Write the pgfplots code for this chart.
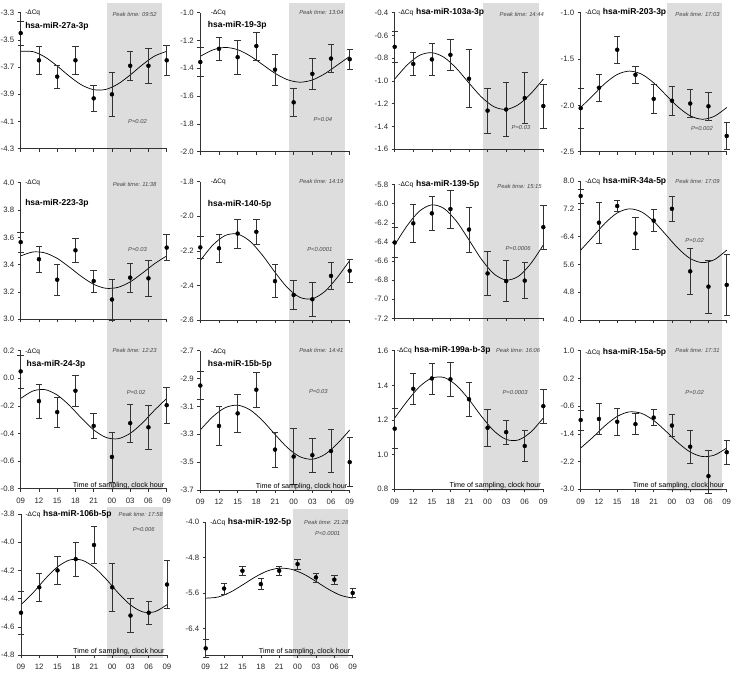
\documentclass[border=0pt]{standalone}
\usepackage{fontspec}
\setmainfont{Liberation Sans}
\usepackage{pgfplots}
\pgfplotsset{compat=1.18}
\definecolor{bandgray}{RGB}{221,221,221}
\definecolor{axgray}{RGB}{50,50,50}
\definecolor{txtgray}{RGB}{70,70,70}

\newcommand{\dcq}{{\fontsize{6.5}{7}\selectfont -ΔCq}}
\newcommand{\ttl}[1]{{\fontsize{8.5}{9}\selectfont\bfseries #1}}
\newcommand{\pk}[1]{{\fontsize{5.8}{6}\selectfont\itshape\color{txtgray}Peak time: #1}}
\newcommand{\pv}[1]{{\fontsize{5.8}{6}\selectfont\itshape\color{txtgray}#1}}
\newcommand{\band}[2]{\fill[bandgray] (rel axis cs:0.5917,#1) rectangle (rel axis cs:0.9708,#2);}
\newcommand{\tsamp}{\node[anchor=base east, inner sep=0pt, font=\fontsize{7.2}{8}\selectfont] at (rel axis cs:0.985,0.012) {Time of sampling,\ clock hour};}

\pgfplotsset{
  panel/.style={
    scale only axis, clip=false, axis on top,
    xmin=0, xmax=24, xtick={0,3,...,24},
    axis x line*=bottom, axis y line*=left,
    axis line style={axgray, line width=0.6pt},
    tick style={axgray, line width=0.6pt},
    tick align=outside, major tick length=3pt,
    xticklabels={},
    ticklabel style={font=\fontsize{7.8}{8}\selectfont, text=black!85},
    yticklabel style={/pgf/number format/fixed, /pgf/number format/fixed zerofill,
      /pgf/number format/precision=1, /pgf/number format/assume math mode=true},
  },
  labelled/.style={xticklabels={09,12,15,18,21,00,03,06,09}, xticklabel style={yshift=-3pt}},
  pts/.style={only marks, mark=*, mark size=2pt, black,
    error bars/.cd, y dir=both, y explicit,
    error bar style={black!80, line width=0.6pt},
    error mark options={rotate=90, mark size=3.2pt, line width=0.6pt, black!80}},
  fit/.style={smooth, no marks, black, line width=0.7pt},
}

\begin{document}
\begin{tikzpicture}
\useasboundingbox (0,0) rectangle (733pt,-677pt);

% ---------- row 1 ----------
\begin{axis}[panel, at={(20.7pt,-148.7pt)}, anchor=south west, width=146pt, height=136pt,
  ymin=-4.3, ymax=-3.3, ytick={-4.3,-4.1,-3.9,-3.7,-3.5,-3.3}]
\band{1.07}{-0.18}
\addplot[fit] coordinates {(0,-3.584)(2,-3.586)(4,-3.626)(6,-3.692)(8,-3.767)(10,-3.831)(12,-3.866)(14,-3.864)(16,-3.824)(18,-3.758)(20,-3.683)(22,-3.619)(24,-3.584)};
\addplot[pts] coordinates {(0,-3.45)+-(0,0.09) (3,-3.65)+-(0,0.10) (6,-3.77)+-(0,0.085) (9,-3.65)+-(0,0.10) (12,-3.93)+-(0,0.095) (15,-3.90)+-(0,0.16) (18,-3.69)+-(0,0.105) (21,-3.69)+-(0,0.13) (24,-3.65)+-(0,0.11)};
\node[anchor=west, inner sep=0pt] at (rel axis cs:0.03,1.0) {\dcq};
\node[anchor=west, inner sep=0pt] at (rel axis cs:0.03,0.897) {\ttl{hsa-miR-27a-3p}};
\node at (rel axis cs:0.78,0.99) {\pk{09:52}};
\node at (rel axis cs:0.80,0.20) {\pv{P=0.02}};
\end{axis}

\begin{axis}[panel, at={(200.3pt,-151.7pt)}, anchor=south west, width=149.4pt, height=139pt,
  ymin=-2.0, ymax=-1.0, ytick={-2.0,-1.8,-1.6,-1.4,-1.2,-1.0}]
\band{1.07}{-0.16}
\addplot[fit] coordinates {(0,-1.314)(2,-1.268)(4,-1.25)(6,-1.266)(8,-1.311)(10,-1.373)(12,-1.436)(14,-1.482)(16,-1.5)(18,-1.484)(20,-1.439)(22,-1.377)(24,-1.314)};
\addplot[pts] coordinates {(0,-1.355)+-(0,0.105) (3,-1.26)+-(0,0.085) (6,-1.32)+-(0,0.12) (9,-1.24)+-(0,0.10) (12,-1.41)+-(0,0.11) (15,-1.645)+-(0,0.10) (18,-1.44)+-(0,0.11) (21,-1.33)+-(0,0.10) (24,-1.335)+-(0,0.075)};
\node[anchor=west, inner sep=0pt] at (rel axis cs:0.07,1.0) {\dcq};
\node[anchor=west, inner sep=0pt] at (rel axis cs:0.05,0.91) {\ttl{hsa-miR-19-3p}};
\node at (rel axis cs:0.81,1.0) {\pk{13:04}};
\node at (rel axis cs:0.82,0.23) {\pv{P=0.04}};
\end{axis}

\begin{axis}[panel, at={(394.7pt,-149.3pt)}, anchor=south west, width=148.6pt, height=136.6pt,
  ymin=-1.6, ymax=-0.4, ytick={-1.6,-1.4,-1.2,-1.0,-0.8,-0.6,-0.4}]
\band{1.07}{-0.18}
\addplot[fit] coordinates {(0,-0.983)(2,-0.860)(4,-0.775)(6,-0.751)(8,-0.793)(10,-0.891)(12,-1.018)(14,-1.140)(16,-1.225)(18,-1.250)(20,-1.207)(22,-1.110)(24,-0.983)};
\addplot[pts] coordinates {(0,-0.70)+-(0,0.14) (3,-0.85)+-(0,0.10) (6,-0.81)+-(0,0.14) (9,-0.77)+-(0,0.14) (12,-0.98)+-(0,0.255) (15,-1.26)+-(0,0.20) (18,-1.25)+-(0,0.235) (21,-1.15)+-(0,0.225) (24,-1.22)+-(0,0.195)};
\node[anchor=west, inner sep=0pt] at (rel axis cs:0.024,1.0) {\dcq\ \ttl{hsa-miR-103a-3p}};
\node at (rel axis cs:0.855,0.99) {\pk{14:44}};
\node at (rel axis cs:0.85,0.16) {\pv{P=0.03}};
\end{axis}

\begin{axis}[panel, at={(580.7pt,-151.7pt)}, anchor=south west, width=146pt, height=139pt,
  ymin=-2.5, ymax=-1.0, ytick={-2.5,-2.0,-1.5,-1.0}]
\band{1.07}{-0.16}
\addplot[fit] coordinates {(0,-2.023)(2,-1.893)(4,-1.763)(6,-1.667)(8,-1.63)(10,-1.663)(12,-1.757)(14,-1.887)(16,-2.017)(18,-2.113)(20,-2.15)(22,-2.117)(24,-2.023)};
\addplot[pts] coordinates {(0,-2.03)+-(0,0.215) (3,-1.81)+-(0,0.15) (6,-1.40)+-(0,0.15) (9,-1.67)+-(0,0.095) (12,-1.93)+-(0,0.16) (15,-1.95)+-(0,0.16) (18,-1.98)+-(0,0.15) (21,-2.01)+-(0,0.15) (24,-2.33)+-(0,0.145)};
\node[anchor=west, inner sep=0pt] at (rel axis cs:0.03,1.0) {\dcq\ \ttl{hsa-miR-203-3p}};
\node at (rel axis cs:0.80,0.99) {\pk{17:03}};
\node at (rel axis cs:0.83,0.17) {\pv{P=0.002}};
\end{axis}

% ---------- row 2 ----------
\begin{axis}[panel, at={(20.7pt,-319.3pt)}, anchor=south west, width=146pt, height=136.6pt,
  ymin=3.0, ymax=4.0, ytick={3.0,3.2,3.4,3.6,3.8,4.0}]
\band{1.07}{-0.17}
\addplot[fit] coordinates {(0,3.464)(2,3.493)(4,3.486)(6,3.446)(8,3.382)(10,3.313)(12,3.256)(14,3.227)(16,3.234)(18,3.274)(20,3.338)(22,3.407)(24,3.464)};
\addplot[pts] coordinates {(0,3.565)+-(0,0.075) (3,3.44)+-(0,0.095) (6,3.29)+-(0,0.115) (9,3.505)+-(0,0.085) (12,3.28)+-(0,0.08) (15,3.145)+-(0,0.15) (18,3.305)+-(0,0.105) (21,3.30)+-(0,0.135) (24,3.525)+-(0,0.095)};
\node[anchor=west, inner sep=0pt] at (rel axis cs:0.03,1.0) {\dcq};
\node[anchor=west, inner sep=0pt] at (rel axis cs:0.03,0.85) {\ttl{hsa-miR-223-3p}};
\node at (rel axis cs:0.78,0.99) {\pk{11:38}};
\node at (rel axis cs:0.80,0.51) {\pv{P=0.03}};
\end{axis}

\begin{axis}[panel, at={(200.3pt,-320pt)}, anchor=south west, width=149.4pt, height=138.3pt,
  ymin=-2.6, ymax=-1.8, ytick={-2.6,-2.4,-2.2,-2.0,-1.8}]
\band{1.07}{-0.16}
\addplot[fit] coordinates {(0,-2.256)(2,-2.167)(4,-2.111)(6,-2.103)(8,-2.145)(10,-2.226)(12,-2.324)(14,-2.413)(16,-2.469)(18,-2.477)(20,-2.435)(22,-2.354)(24,-2.256)};
\addplot[pts] coordinates {(0,-2.18)+-(0,0.065) (3,-2.185)+-(0,0.08) (6,-2.10)+-(0,0.085) (9,-2.09)+-(0,0.07) (12,-2.375)+-(0,0.095) (15,-2.455)+-(0,0.085) (18,-2.48)+-(0,0.10) (21,-2.345)+-(0,0.08) (24,-2.315)+-(0,0.065)};
\node[anchor=west, inner sep=0pt] at (rel axis cs:0.07,1.0) {\dcq};
\node[anchor=west, inner sep=0pt] at (rel axis cs:0.05,0.84) {\ttl{hsa-miR-140-5p}};
\node at (rel axis cs:0.81,1.0) {\pk{14:19}};
\node at (rel axis cs:0.80,0.51) {\pv{P<0.0001}};
\end{axis}

\begin{axis}[panel, at={(394.7pt,-318.3pt)}, anchor=south west, width=148.6pt, height=133.6pt,
  ymin=-7.2, ymax=-5.8, ytick={-7.2,-7.0,-6.8,-6.6,-6.4,-6.2,-6.0,-5.8}]
\band{1.1}{-0.18}
\addplot[fit] coordinates {(0,-6.431)(2,-6.230)(4,-6.077)(6,-6.011)(8,-6.051)(10,-6.185)(12,-6.379)(14,-6.580)(16,-6.733)(18,-6.799)(20,-6.759)(22,-6.625)(24,-6.431)};
\addplot[pts] coordinates {(0,-6.405)+-(0,0.16) (3,-6.205)+-(0,0.195) (6,-6.10)+-(0,0.175) (9,-6.055)+-(0,0.20) (12,-6.27)+-(0,0.235) (15,-6.73)+-(0,0.23) (18,-6.81)+-(0,0.215) (21,-6.805)+-(0,0.19) (24,-6.245)+-(0,0.23)};
\node[anchor=west, inner sep=0pt] at (rel axis cs:0.024,1.0) {\dcq\ \ttl{hsa-miR-139-5p}};
\node at (rel axis cs:0.84,0.99) {\pk{15:15}};
\node at (rel axis cs:0.83,0.52) {\pv{P=0.0006}};
\end{axis}

\begin{axis}[panel, at={(580.7pt,-320pt)}, anchor=south west, width=146pt, height=139pt,
  ymin=4.0, ymax=8.0, ytick={4.0,4.8,5.6,6.4,7.2,8.0}, yticklabels={4.0,4.8,5.6,-6.4,7.2,8.0}]
\band{1.08}{-0.16}
\addplot[fit] coordinates {(0,6.011)(2,6.395)(4,6.786)(6,7.081)(8,7.199)(10,7.111)(12,6.839)(14,6.455)(16,6.064)(18,5.769)(20,5.651)(22,5.739)(24,6.011)};
\addplot[pts] coordinates {(0,7.57)+-(0,0.20) (3,6.80)+-(0,0.58) (6,7.28)+-(0,0.16) (9,6.49)+-(0,0.46) (12,6.86)+-(0,0.32) (15,7.20)+-(0,0.35) (18,5.40)+-(0,0.66) (21,4.96)+-(0,0.77) (24,5.01)+-(0,0.88)};
\node[anchor=west, inner sep=0pt] at (rel axis cs:0.03,1.0) {\dcq\ \ttl{hsa-miR-34a-5p}};
\node at (rel axis cs:0.80,1.0) {\pk{17:09}};
\node at (rel axis cs:0.78,0.57) {\pv{P=0.02}};
\end{axis}

% ---------- row 3 ----------
\begin{axis}[panel, labelled, at={(20.7pt,-488.7pt)}, anchor=south west, width=146pt, height=138pt,
  ymin=-0.8, ymax=0.2, ytick={-0.8,-0.6,-0.4,-0.2,0.0,0.2}]
\band{1.08}{-0.01}
\addplot[fit] coordinates {(0,-0.146)(2,-0.092)(4,-0.082)(6,-0.121)(8,-0.196)(10,-0.289)(12,-0.374)(14,-0.428)(16,-0.438)(18,-0.399)(20,-0.324)(22,-0.231)(24,-0.146)};
\addplot[pts] coordinates {(0,0.05)+-(0,0.12) (3,-0.165)+-(0,0.125) (6,-0.245)+-(0,0.11) (9,-0.09)+-(0,0.115) (12,-0.345)+-(0,0.09) (15,-0.57)+-(0,0.18) (18,-0.325)+-(0,0.14) (21,-0.355)+-(0,0.16) (24,-0.195)+-(0,0.13)};
\node[anchor=west, inner sep=0pt] at (rel axis cs:0.03,0.99) {\dcq};
\node[anchor=west, inner sep=0pt] at (rel axis cs:0.04,0.90) {\ttl{hsa-miR-24-3p}};
\node at (rel axis cs:0.78,1.0) {\pk{12:23}};
\node at (rel axis cs:0.79,0.70) {\pv{P=0.02}};
\tsamp
\end{axis}

\begin{axis}[panel, labelled, at={(200.3pt,-490pt)}, anchor=south west, width=149.4pt, height=139.3pt,
  ymin=-3.7, ymax=-2.7, ytick={-3.7,-3.5,-3.3,-3.1,-2.9,-2.7}]
\band{1.08}{-0.01}
\addplot[fit] coordinates {(0,-3.269)(2,-3.174)(4,-3.109)(6,-3.091)(8,-3.125)(10,-3.202)(12,-3.301)(14,-3.396)(16,-3.461)(18,-3.479)(20,-3.445)(22,-3.368)(24,-3.269)};
\addplot[pts] coordinates {(0,-2.95)+-(0,0.10) (3,-3.24)+-(0,0.14) (6,-3.15)+-(0,0.135) (9,-2.98)+-(0,0.125) (12,-3.41)+-(0,0.125) (15,-3.46)+-(0,0.20) (18,-3.45)+-(0,0.12) (21,-3.42)+-(0,0.155) (24,-3.50)+-(0,0.175)};
\node[anchor=west, inner sep=0pt] at (rel axis cs:0.07,0.99) {\dcq};
\node[anchor=west, inner sep=0pt] at (rel axis cs:0.05,0.90) {\ttl{hsa-miR-15b-5p}};
\node at (rel axis cs:0.81,1.0) {\pk{14:41}};
\node at (rel axis cs:0.79,0.71) {\pv{P=0.03}};
\tsamp
\end{axis}

\begin{axis}[panel, labelled, at={(394.7pt,-489.3pt)}, anchor=south west, width=148.6pt, height=138.6pt,
  ymin=0.8, ymax=1.6, ytick={0.8,1.0,1.2,1.4,1.6}]
\band{1.08}{-0.01}
\addplot[fit] coordinates {(0,1.212)(2,1.308)(4,1.392)(6,1.442)(8,1.445)(10,1.399)(12,1.318)(14,1.222)(16,1.138)(18,1.088)(20,1.085)(22,1.131)(24,1.212)};
\addplot[pts] coordinates {(0,1.15)+-(0,0.115) (3,1.38)+-(0,0.09) (6,1.44)+-(0,0.09) (9,1.435)+-(0,0.10) (12,1.32)+-(0,0.10) (15,1.155)+-(0,0.105) (18,1.13)+-(0,0.07) (21,1.05)+-(0,0.09) (24,1.28)+-(0,0.10)};
\node[anchor=west, inner sep=0pt] at (rel axis cs:0.013,1.0) {\dcq\ \ttl{hsa-miR-199a-b-3p}};
\node at (rel axis cs:0.83,1.0) {\pk{16:06}};
\node at (rel axis cs:0.81,0.70) {\pv{P=0.0003}};
\tsamp
\end{axis}

\begin{axis}[panel, labelled, at={(580.7pt,-489.3pt)}, anchor=south west, width=146pt, height=138.6pt,
  ymin=-3.0, ymax=1.0, ytick={-3.0,-2.2,-1.4,-0.6,0.2,1.0}]
\band{1.08}{-0.01}
\addplot[fit] coordinates {(0,-1.808)(2,-1.498)(4,-1.164)(6,-0.896)(8,-0.766)(10,-0.808)(12,-1.012)(14,-1.322)(16,-1.656)(18,-1.924)(20,-2.054)(22,-2.012)(24,-1.808)};
\addplot[pts] coordinates {(0,-1.0)+-(0,0.29) (3,-0.97)+-(0,0.45) (6,-1.05)+-(0,0.39) (9,-1.12)+-(0,0.30) (12,-0.93)+-(0,0.23) (15,-1.16)+-(0,0.32) (18,-1.77)+-(0,0.48) (21,-2.62)+=(0,0.75)-=(0,0.5) (24,-1.93)+-(0,0.35)};
\node[anchor=west, inner sep=0pt] at (rel axis cs:0.03,0.985) {\dcq\ \ttl{hsa-miR-15a-5p}};
\node at (rel axis cs:0.80,1.0) {\pk{17:31}};
\node at (rel axis cs:0.78,0.70) {\pv{P=0.02}};
\tsamp
\end{axis}

% ---------- row 4 ----------
\begin{axis}[panel, labelled, at={(21pt,-655pt)}, anchor=south west, width=146pt, height=141pt,
  ymin=-4.8, ymax=-3.8, ytick={-4.8,-4.6,-4.4,-4.2,-4.0,-3.8}]
\band{1.05}{-0.02}
\addplot[fit] coordinates {(0,-4.443)(2,-4.358)(4,-4.259)(6,-4.175)(8,-4.126)(10,-4.127)(12,-4.177)(14,-4.262)(16,-4.361)(18,-4.445)(20,-4.494)(22,-4.493)(24,-4.443)};
\addplot[pts] coordinates {(0,-4.50)+-(0,0.15) (3,-4.32)+-(0,0.10) (6,-4.20)+-(0,0.10) (9,-4.12)+-(0,0.12) (12,-4.02)+-(0,0.13) (15,-4.32)+-(0,0.17) (18,-4.52)+-(0,0.12) (21,-4.50)+-(0,0.08) (24,-4.30)+-(0,0.17)};
\node[anchor=west, inner sep=0pt] at (rel axis cs:0.03,1.0) {\dcq\ \ttl{hsa-miR-106b-5p}};
\node at (rel axis cs:0.82,1.0) {\pk{17:58}};
\node at (rel axis cs:0.84,0.89) {\pv{P=0.006}};
\tsamp
\end{axis}

\begin{axis}[panel, labelled, at={(205.7pt,-655pt)}, anchor=south west, width=147pt, height=133pt,
  ymin=-7.0, ymax=-4.0, ytick={-6.4,-5.6,-4.8,-4.0}]
\band{1.1}{-0.02}
\addplot[fit] coordinates {(0,-5.718)(2,-5.693)(4,-5.585)(6,-5.421)(8,-5.247)(10,-5.108)(12,-5.042)(14,-5.067)(16,-5.175)(18,-5.339)(20,-5.513)(22,-5.652)(24,-5.718)};
\addplot[pts] coordinates {(0,-6.85)+-(0,0.20) (3,-5.50)+-(0,0.12) (6,-5.10)+-(0,0.10) (9,-5.40)+-(0,0.12) (12,-5.10)+-(0,0.10) (15,-4.95)+-(0,0.12) (18,-5.25)+-(0,0.10) (21,-5.30)+-(0,0.10) (24,-5.60)+-(0,0.10)};
\node[anchor=west, inner sep=0pt] at (rel axis cs:0.03,1.0) {\dcq\ \ttl{hsa-miR-192-5p}};
\node at (rel axis cs:0.82,1.0) {\pk{21:28}};
\node at (rel axis cs:0.83,0.91) {\pv{P<0.0001}};
\tsamp
\end{axis}
\end{tikzpicture}
\end{document}
